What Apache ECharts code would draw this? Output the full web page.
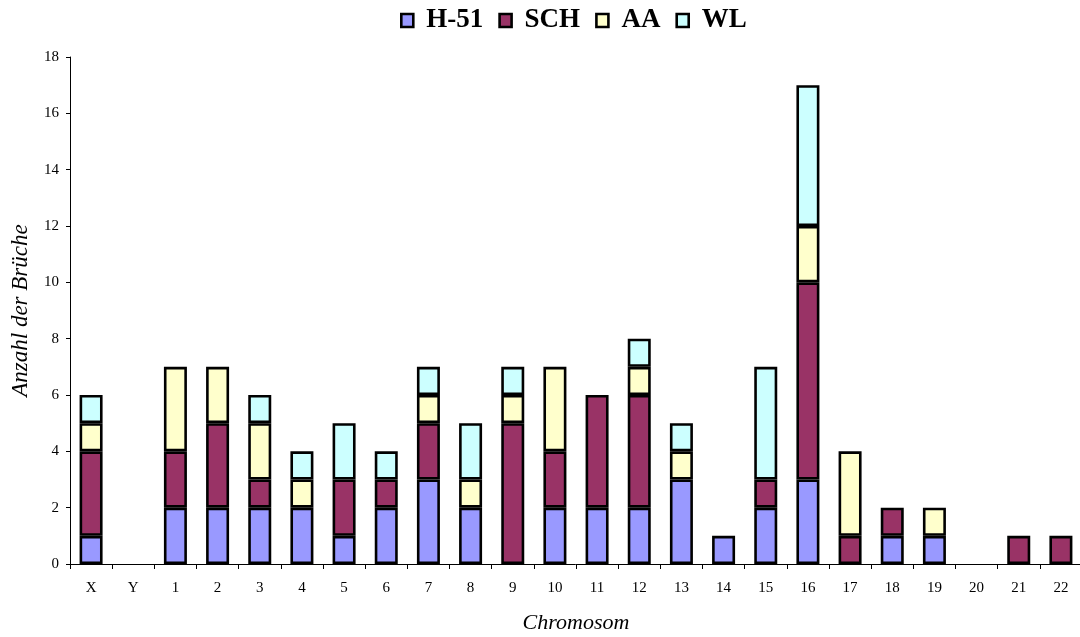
<!DOCTYPE html>
<html><head><meta charset="utf-8">
<script src="https://cdn.jsdelivr.net/npm/echarts@6/dist/echarts.min.js"></script>
<style>html,body{margin:0;padding:0;background:#fff}#c{width:1080px;height:637px}</style>
</head><body><div id="c"></div>
<script>
const categories = ['X','Y','1','2','3','4','5','6','7','8','9','10','11','12','13','14','15','16','17','18','19','20','21','22'];
const h51 = [1,0,2,2,2,2,1,2,3,2,0,2,2,2,3,1,2,3,0,1,1,0,0,0];
const sch = [3,0,2,3,1,0,2,1,2,0,5,2,4,4,0,0,1,7,1,1,0,0,1,1];
const aa  = [1,0,3,2,2,1,0,0,1,1,1,3,0,1,1,0,0,2,3,0,1,0,0,0];
const wl  = [1,0,0,0,1,1,2,1,1,2,1,0,0,1,1,0,4,5,0,0,0,0,0,0];
const yTicks = [0,2,4,6,8,10,12,14,16,18];

const font = 'Liberation Serif, Times New Roman, serif';
function mk(name, data, color){
  return {name, type:'bar', stack:'s', barWidth:23,
    data: data.map(v => v === 0 ? '-' : v),
    itemStyle:{color, borderColor:'#000', borderWidth:2.6}};
}
const chart = echarts.init(document.getElementById('c'));
chart.setOption({
  animation:false,
  textStyle:{fontFamily:font},
  legend:{top:2, left:395, icon:'rect', itemWidth:12, itemHeight:13, itemGap:15,
    textStyle:{fontFamily:font, fontSize:27, fontWeight:'bold', color:'#000', padding:[2,0,0,8]},
    itemStyle:{borderColor:'#000', borderWidth:2.6}},
  grid:{left:70, top:57, width:1012, height:507, containLabel:false, outerBoundsMode:'none'},
  xAxis:{type:'category', data:categories,
    name:'Chromosom', nameLocation:'middle', nameGap:48,
    nameTextStyle:{fontFamily:font, fontStyle:'italic', fontSize:22, color:'#000'},
    axisLine:{lineStyle:{color:'#000', width:1}},
    axisTick:{show:true, alignWithLabel:false, length:5, lineStyle:{color:'#000'}},
    axisLabel:{fontFamily:font, fontSize:15, color:'#000', margin:17}},
  yAxis:{type:'value', min:0, max:18, interval:2,
    name:'Anzahl der Brüche', nameLocation:'middle', nameGap:38,
    nameTextStyle:{fontFamily:font, fontStyle:'italic', fontSize:23, color:'#000'},
    axisLine:{show:true, lineStyle:{color:'#000', width:1}},
    axisTick:{show:true, length:4, lineStyle:{color:'#000'}},
    splitLine:{show:false},
    axisLabel:{fontFamily:font, fontSize:15, color:'#000', margin:11,
      formatter: v => yTicks.includes(v) ? String(v) : ''}},
  series:[mk('H-51',h51,'#9999FF'), mk('SCH',sch,'#993366'), mk('AA',aa,'#FFFFCC'), mk('WL',wl,'#CCFFFF')]
});
</script></body></html>
